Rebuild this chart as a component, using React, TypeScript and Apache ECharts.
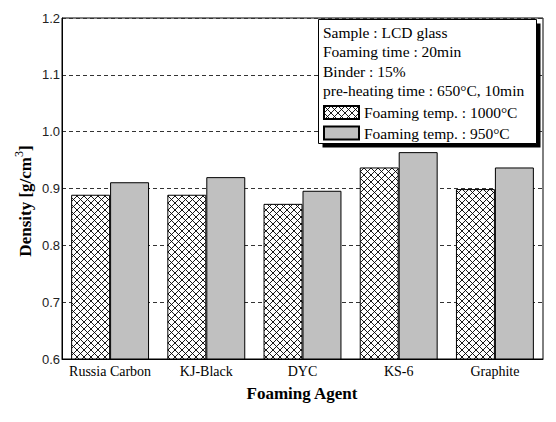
import React, { useEffect, useRef } from "react";
import * as echarts from "echarts";

const categories = ["Russia Carbon", "KJ-Black", "DYC", "KS-6", "Graphite"];
const temp1000 = [0.889, 0.889, 0.873, 0.937, 0.899];
const temp950 = [0.911, 0.920, 0.896, 0.964, 0.937];
const seriesNames = ["Foaming temp. : 1000\u00b0C", "Foaming temp. : 950\u00b0C"];
const infoLines = [
  "Sample : LCD glass",
  "Foaming time : 20min",
  "Binder : 15%",
  "pre-heating time : 650\u00b0C, 10min",
];

const SERIF = '"Liberation Serif", "Times New Roman", serif';
const SANS = '"Liberation Sans", Arial, sans-serif';

function makeHatch(): HTMLCanvasElement {
  const s = 7;
  const c = document.createElement("canvas");
  c.width = s;
  c.height = s;
  const ctx = c.getContext("2d")!;
  ctx.fillStyle = "#fff";
  ctx.fillRect(0, 0, s, s);
  ctx.strokeStyle = "#000";
  ctx.lineWidth = 0.9;
  ctx.beginPath();
  ctx.moveTo(0, 0);
  ctx.lineTo(s, s);
  ctx.moveTo(0, s);
  ctx.lineTo(s, 0);
  ctx.stroke();
  return c;
}

export default function App() {
  const ref = useRef<HTMLDivElement>(null);
  useEffect(() => {
    if (!ref.current) return;
    const chart = echarts.init(ref.current, null, { renderer: "svg" });
    const hatch = makeHatch();
    const infoGraphics = infoLines.map((t, i) => ({
      type: "text",
      left: 323,
      top: 33.3 + i * 19.5 - 9,
      z: 6,
      style: { text: t, font: `15.5px ${SERIF}`, fill: "#000" },
    }));
    chart.setOption({
      animation: false,
      backgroundColor: "#fff",
      grid: {
        left: 62,
        right: 13,
        top: 18,
        bottom: 63,
        show: true,
        borderColor: "#000",
        borderWidth: 1,
        backgroundColor: "transparent",
      },
      xAxis: {
        type: "category",
        data: categories,
        axisLine: { lineStyle: { color: "#000", width: 1 } },
        axisTick: { show: false },
        axisLabel: {
          interval: 0,
          margin: 5,
          fontFamily: SERIF,
          fontSize: 14,
          color: "#000",
        },
      },
      yAxis: {
        type: "value",
        min: 0.6,
        max: 1.2,
        interval: 0.1,
        axisLine: { show: true, lineStyle: { color: "#000", width: 1 } },
        axisTick: { show: false },
        axisLabel: {
          margin: 2,
          fontFamily: SANS,
          fontSize: 13,
          color: "#222",
          formatter: (v: number) => v.toFixed(1),
        },
        splitLine: {
          show: true,
          lineStyle: { color: "#333", type: [4, 3], width: 1 },
        },
      },
      legend: {
        orient: "vertical",
        left: 323,
        top: 104.5,
        padding: 0,
        itemWidth: 35,
        itemHeight: 13,
        itemGap: 4.5,
        z: 10,
        textStyle: { fontFamily: SERIF, fontSize: 15.5, lineHeight: 15, color: "#000" },
        data: seriesNames.map((n) => ({ name: n, icon: "rect" })),
      },
      series: [
        {
          name: seriesNames[0],
          type: "bar",
          data: temp1000,
          barGap: "0%",
          barCategoryGap: "19%",
          itemStyle: {
            color: { image: hatch, repeat: "repeat" },
            borderColor: "#000",
            borderWidth: 1,
          },
        },
        {
          name: seriesNames[1],
          type: "bar",
          data: temp950,
          barGap: "0%",
          barCategoryGap: "19%",
          itemStyle: { color: "#c0c0c0", borderColor: "#000", borderWidth: 1 },
        },
      ],
      graphic: [
        {
          type: "rect",
          z: 3,
          shape: { x: 322.5, y: 23.5, width: 218, height: 124 },
          style: { fill: "#000" },
        },
        {
          type: "rect",
          z: 4,
          shape: { x: 318.5, y: 19.5, width: 218, height: 124 },
          style: { fill: "#fff", stroke: "#000", lineWidth: 1 },
        },
        ...infoGraphics,
        {
          type: "text",
          x: 302,
          y: 393,
          z: 6,
          style: {
            text: "Foaming Agent",
            font: `bold 17px ${SERIF}`,
            fill: "#000",
            textAlign: "center",
            textVerticalAlign: "middle",
          },
        },
        {
          type: "text",
          x: 25,
          y: 201,
          rotation: Math.PI / 2,
          z: 6,
          style: {
            text: "{a|Density [g/cm}{sup|3}{a|]}",
            textAlign: "center",
            textVerticalAlign: "middle",
            fill: "#000",
            rich: {
              a: {
                fontFamily: SERIF,
                fontWeight: "bold",
                fontSize: 17,
                lineHeight: 24,
                color: "#000",
              },
              sup: {
                fontFamily: SERIF,
                fontSize: 12,
                lineHeight: 12,
                verticalAlign: "top",
                color: "#000",
              },
            },
          },
        },
      ],
    });
    return () => chart.dispose();
  }, []);
  return <div ref={ref} style={{ width: 556, height: 422, margin: -8 }} />;
}
